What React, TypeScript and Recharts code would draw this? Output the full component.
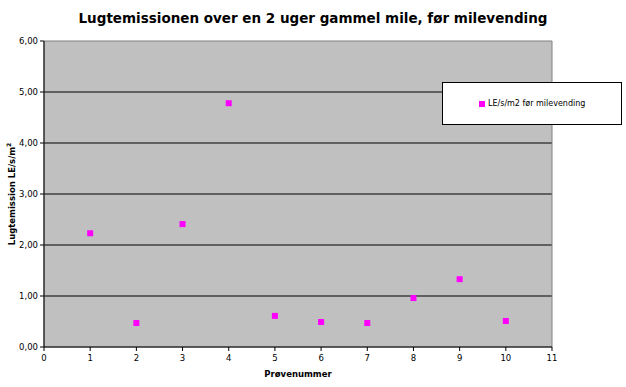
import React from 'react';
import {
  ScatterChart,
  Scatter,
  XAxis,
  YAxis,
  CartesianGrid,
  ReferenceArea,
  Label,
} from 'recharts';

const sampleNos = [1, 2, 3, 4, 5, 6, 7, 8, 9, 10];
const emissions = [2.23, 0.47, 2.41, 4.78, 0.61, 0.49, 0.47, 0.96, 1.33, 0.51];
const xTicks = [0, 1, 2, 3, 4, 5, 6, 7, 8, 9, 10, 11];
const yTicks = [0, 1, 2, 3, 4, 5, 6];
const seriesName = 'LE/s/m2 før milevending';

const data = sampleNos.map((n, i) => ({ x: n, y: emissions[i] }));

const FONT = 'Verdana, "DejaVu Sans", sans-serif';

const Square = (props: any) => {
  const { cx, cy } = props;
  return <rect x={cx - 3} y={cy - 3} width={6} height={6} fill="#ff00ff" />;
};

const YLabel = (props: any) => {
  const { viewBox } = props;
  const x = 12;
  const y = viewBox.y + viewBox.height / 2;
  return (
    <text
      x={x}
      y={y}
      transform={`rotate(-90, ${x}, ${y})`}
      textAnchor="middle"
      dominantBaseline="central"
      fontFamily={FONT}
      fontSize={8.5}
      fontWeight="bold"
      fill="#000"
    >
      Lugtemission LE/s/m
      <tspan dy={-4} fontSize={6}>2</tspan>
    </text>
  );
};

export default function App() {
  return (
    <div style={{ position: 'absolute', left: 0, top: 0, width: 626, height: 387, background: '#fff' }}>
      <div
        style={{
          position: 'absolute',
          top: 10,
          left: 0,
          width: 626,
          textAlign: 'center',
          fontFamily: FONT,
          fontWeight: 'bold',
          fontSize: 13.5,
          color: '#000',
        }}
      >
        Lugtemissionen over en 2 uger gammel mile, før milevending
      </div>
      <ScatterChart width={626} height={387} margin={{ top: 41, right: 74, bottom: 10, left: 0 }}>
        <CartesianGrid
          horizontal
          vertical={false}
          fill="#c0c0c0"
          stroke="#000"
          strokeOpacity={1}
          horizontalValues={[1, 2, 3, 4, 5]}
        />
        <ReferenceArea x1={0} x2={11} y1={0} y2={6} fill="none" stroke="#808080" strokeWidth={1} ifOverflow="visible" />
        <XAxis
          type="number"
          dataKey="x"
          domain={[0, 11]}
          ticks={xTicks}
          interval={0}
          height={30}
          stroke="#000"
          tickSize={4}
          tick={{ fontFamily: FONT, fontSize: 8.5, fill: '#000', dy: 2 }}
        >
          <Label
            value="Prøvenummer"
            position="insideBottom"
            offset={0}
            style={{ fontFamily: FONT, fontSize: 8.5, fontWeight: 'bold', fill: '#000' }}
          />
        </XAxis>
        <YAxis
          type="number"
          dataKey="y"
          domain={[0, 6]}
          ticks={yTicks}
          interval={0}
          width={44}
          stroke="#000"
          tickSize={4}
          tickFormatter={(v: number) => v.toFixed(2).replace('.', ',')}
          tick={{ fontFamily: FONT, fontSize: 8.5, fill: '#000' }}
        >
          <Label content={<YLabel />} />
        </YAxis>
        <Scatter name={seriesName} data={data} shape={<Square />} isAnimationActive={false} />
      </ScatterChart>
      <div
        style={{
          position: 'absolute',
          left: 442,
          top: 82,
          width: 178,
          height: 41,
          border: '1px solid #000',
          background: '#fff',
          display: 'flex',
          alignItems: 'center',
          fontFamily: FONT,
          fontSize: 8,
          color: '#000',
        }}
      >
        <span
          style={{ display: 'inline-block', width: 6, height: 6, background: '#ff00ff', marginLeft: 36, marginRight: 3 }}
        />
        {seriesName}
      </div>
    </div>
  );
}
